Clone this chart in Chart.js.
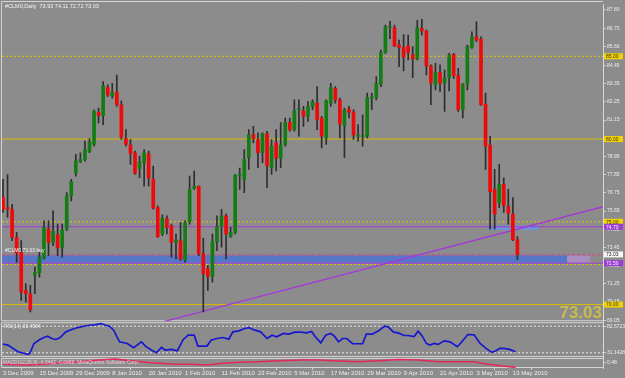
<!DOCTYPE html>
<html>
<head>
<meta charset="utf-8">
<script src="https://cdn.jsdelivr.net/npm/chart.js@4/dist/chart.umd.min.js"></script>
<style>
html, body { margin: 0; padding: 0; background: #8c8c8c; }
canvas { display: block; }
</style>
</head>
<body>
<canvas id="cl" width="625" height="378"></canvas>
<script>
// #CLM0 daily candles, 3 Dec 2009 .. 14 May 2010
var opens = [76.46, 75.86, 75.76, 74.06, 73.16, 70.85, 70.65, 71.75, 71.93, 72.82,
    74.56, 73.76, 74.22, 73.46, 74.56, 76.56, 77.96, 78.63, 78.77, 79.27,
    79.67, 81.61, 81.43, 83.13, 82.61, 82.85, 82.07, 80.03, 79.63, 79.17,
    78.23, 78.57, 79.11, 77.56, 75.86, 74.26, 75.20, 74.76, 73.76, 73.86,
    72.70, 75.00, 77.03, 77.15, 73.06, 72.16, 71.70, 73.80, 74.70, 75.36,
    74.10, 74.36, 77.80, 77.56, 78.87, 80.27, 79.97, 79.17, 80.31, 78.27,
    79.77, 78.83, 79.67, 81.01, 80.57, 81.77, 81.71, 81.37, 81.97, 82.17,
    81.27, 80.07, 82.17, 83.07, 82.37, 80.83, 81.81, 81.63, 80.17, 80.15,
    80.17, 82.49, 82.51, 83.31, 85.23, 86.74, 86.74, 85.70, 85.54, 85.64,
    85.11, 84.84, 86.68, 86.54, 84.42, 83.27, 84.01, 83.37, 83.71, 85.11,
    83.83, 81.77, 83.31, 85.54, 86.18, 86.02, 82.11, 79.63, 76.96, 76.16,
    77.26, 75.92, 75.46, 73.93];
var highs = [77.56, 77.86, 76.06, 74.36, 73.86, 71.26, 71.16, 72.26, 73.16, 75.06,
    75.06, 75.66, 74.86, 74.86, 76.76, 77.56, 79.07, 79.17, 79.87, 80.03,
    81.77, 81.87, 83.47, 83.27, 83.37, 83.87, 82.31, 80.57, 79.97, 79.27,
    78.97, 79.37, 79.27, 78.37, 75.96, 75.42, 75.36, 74.86, 74.26, 74.96,
    75.06, 77.76, 78.07, 77.17, 74.00, 72.36, 74.26, 75.36, 75.76, 75.46,
    74.66, 77.86, 78.25, 79.37, 80.57, 80.77, 80.37, 80.37, 80.47, 79.97,
    80.57, 81.00, 81.27, 81.27, 82.37, 82.37, 81.97, 82.27, 82.37, 83.17,
    81.37, 82.37, 83.37, 83.17, 82.47, 81.87, 81.97, 81.77, 80.87, 81.47,
    82.77, 82.77, 83.77, 85.37, 86.88, 87.12, 86.88, 85.98, 86.31, 86.28,
    85.58, 87.18, 87.24, 86.58, 84.48, 84.57, 84.48, 84.17, 85.18, 85.18,
    84.27, 83.37, 85.68, 86.48, 87.08, 86.18, 82.77, 80.17, 78.17, 78.47,
    77.66, 76.96, 76.46, 74.11];
var lows = [75.56, 75.26, 73.86, 72.56, 70.25, 70.15, 69.55, 70.65, 71.65, 72.76,
    72.96, 73.56, 72.96, 72.86, 74.46, 76.26, 77.76, 78.57, 78.67, 79.17,
    79.57, 80.97, 80.87, 82.57, 82.47, 81.97, 79.97, 79.57, 78.47, 77.86,
    77.66, 77.16, 77.16, 75.76, 74.06, 74.16, 74.26, 72.86, 72.76, 72.66,
    72.56, 74.86, 76.96, 72.96, 69.55, 70.85, 71.35, 73.26, 73.46, 72.76,
    74.06, 74.26, 76.96, 76.76, 78.17, 79.77, 78.27, 78.57, 77.06, 77.86,
    78.07, 78.27, 79.57, 80.47, 80.47, 80.17, 80.77, 81.07, 81.77, 80.57,
    79.47, 79.67, 81.97, 82.17, 80.07, 78.87, 81.27, 79.97, 79.87, 79.57,
    80.07, 81.77, 82.37, 83.17, 85.17, 86.07, 85.58, 84.37, 84.12, 84.78,
    83.71, 84.78, 86.28, 83.87, 82.07, 82.97, 82.87, 81.67, 82.91, 83.67,
    81.67, 81.27, 82.97, 85.48, 85.88, 82.03, 78.17, 74.56, 74.56, 75.86,
    75.56, 74.86, 73.86, 72.72];
var closes = [75.76, 75.76, 74.06, 73.10, 70.75, 70.65, 69.69, 71.95, 72.86, 74.66,
    73.76, 74.42, 73.42, 74.50, 76.56, 77.42, 78.67, 78.77, 79.37, 79.81,
    81.67, 81.43, 83.21, 82.67, 82.83, 82.07, 80.11, 79.67, 79.13, 77.93,
    78.63, 79.17, 77.63, 75.82, 74.10, 75.22, 74.66, 73.76, 73.90, 72.76,
    74.96, 76.96, 77.15, 73.06, 71.86, 71.70, 73.80, 74.70, 75.36, 74.26,
    74.36, 77.82, 77.84, 78.77, 80.27, 80.03, 79.17, 80.31, 78.37, 79.57,
    78.83, 79.63, 81.01, 80.57, 81.71, 81.79, 81.37, 81.97, 82.27, 81.17,
    80.17, 82.31, 83.11, 82.37, 80.91, 81.77, 81.63, 80.23, 80.19, 80.19,
    82.51, 82.53, 83.37, 85.23, 86.78, 86.76, 85.62, 85.54, 84.94, 85.23,
    84.84, 86.72, 86.54, 84.42, 83.37, 84.01, 83.37, 83.67, 85.08, 83.83,
    81.77, 83.31, 85.58, 86.18, 85.98, 82.07, 79.57, 76.82, 75.46, 77.26,
    75.99, 75.52, 73.90, 73.03];

var dateTicks = [0, 8, 16, 24, 32, 40, 48, 56, 64, 72, 80, 88, 96, 104, 112];
var dateLabels = ['3 Dec 2009', '15 Dec 2009', '29 Dec 2009', '8 Jan 2010', '20 Jan 2010',
    '1 Feb 2010', '11 Feb 2010', '23 Feb 2010', '5 Mar 2010', '17 Mar 2010',
    '29 Mar 2010', '9 Apr 2010', '21 Apr 2010', '3 May 2010', '13 May 2010'];
var priceTicks = [69.05, 70.15, 71.25, 72.35, 73.45, 74.55, 75.65, 76.75, 77.85, 78.95,
    80.05, 81.15, 82.25, 83.35, 84.45, 85.60, 86.70, 87.80];

// horizontal levels drawn on the chart
var yellowDotted = [85.00, 75.00, 72.42];
var yellowSolid = [80.00, 70.00];
var purpleLines = [74.70, 72.50];
var pinkDashed = [73.00];
var lastPrice = 73.03;
var trendPts = [[35.5, 68.99], [131.8, 75.91]];
var blueZone = [72.97, 72.52];
var blueZoneEnd = 123.9, zoneTagEnd = 128.9;
var smallZone = [74.78, 74.50], smallZoneFrom = 106.7, smallZoneTo = 117.7;

// RSI(14) panel, [bar, value]
var rsiPts = [[0, 47.9], [1.1, 46.0], [3.3, 33.1], [5.5, 28.0], [5.9, 29.9], [6.8, 49.2], [8.1, 56.9],
    [9.0, 60.7], [9.8, 63.3], [10.7, 58.8], [11.6, 56.9], [12.5, 60.1], [13.8, 71.7], [15.1, 76.2],
    [16.4, 80.0], [17.7, 82.6], [19.0, 84.5], [20.3, 85.8], [21.6, 87.7], [22.5, 84.5], [23.4, 82.6],
    [24.3, 74.9], [25.6, 52.4], [27.3, 49.2], [28.7, 40.8], [30.4, 52.4], [31.3, 44.1], [32.6, 36.4],
    [33.7, 31.2], [34.8, 41.5], [35.6, 36.4], [37.0, 37.6], [38.3, 35.1], [39.6, 56.9], [40.7, 65.2],
    [42.0, 65.2], [42.8, 44.1], [44.8, 44.1], [45.7, 55.6], [47.0, 58.8], [48.3, 60.7], [49.6, 57.5],
    [50.5, 71.7], [51.8, 73.6], [53.1, 78.1], [54.0, 80.0], [55.3, 74.9], [56.6, 71.7], [58.0, 58.8],
    [59.1, 65.2], [60.1, 62.0], [61.6, 68.5], [62.8, 67.2], [64.1, 71.0], [65.4, 71.0], [66.7, 69.7],
    [67.8, 72.3], [68.6, 62.0], [69.8, 50.5], [70.9, 65.2], [72.0, 68.5], [72.8, 63.3], [73.7, 52.4],
    [74.6, 58.8], [75.5, 58.8], [76.8, 48.6], [79.0, 48.6], [79.8, 67.2], [81.1, 67.2], [82.5, 73.6],
    [83.8, 82.6], [84.6, 81.3], [85.8, 71.0], [86.8, 69.7], [88.1, 64.6], [89.0, 64.6], [90.3, 62.7],
    [91.2, 72.9], [92.1, 63.3], [93.0, 49.2], [93.8, 46.0], [94.7, 49.2], [95.6, 47.3], [96.9, 54.3],
    [98.2, 52.4], [99.8, 42.8], [100.8, 52.4], [102.1, 66.5], [103.5, 65.9], [104.8, 49.2],
    [106.1, 39.6], [107.4, 31.9], [108.3, 35.1], [109.1, 39.6], [110.0, 39.6], [111.3, 37.6], [112.6, 33.1]];
var rsiLevels = [82.5723, 31.1428];

// MACD(12,26,9) signal line, [bar, value]
var macdPts = [[0, -0.1], [6, -0.3], [10, 0.1], [12.5, 0.4], [16.8, 0.7], [21.2, 1.2], [24.7, 1.5],
    [28.2, 1.0], [32.6, 0.4], [37, 0.0], [41.3, -0.1], [44.8, -0.3], [48.3, 0.2], [51.8, 0.5],
    [56.2, 0.7], [60.6, 1.0], [65.8, 1.2], [69.3, 1.2], [73.7, 0.9], [78.1, 0.7], [82.5, 1.0],
    [86.8, 1.4], [91.2, 1.2], [95.6, 0.7], [100, 0.7], [103.5, 0.7], [106.1, 0.0], [109.6, -0.6],
    [112.6, -1.0]];
var macdTicks = [0.48];

var xMin = -0.22, xMax = 131.8;
var small = { family: 'Liberation Sans', size: 5 };

function levelSet(levels, color, dash, axis) {
    return levels.map(function (v) {
        return {
            type: 'line', yAxisID: axis || 'y', order: 3,
            data: [{ x: xMin, y: v }, { x: xMax, y: v }],
            borderColor: color, borderWidth: 1, borderDash: dash, pointRadius: 0
        };
    });
}
function fixTicks(vals) {
    return function (scale) { scale.ticks = vals.map(function (v) { return { value: v }; }); };
}
function fitWidth(scale) { scale.width = 22; }

var bodies = opens.map(function (o, i) { return { x: i, y: [o, closes[i]] }; });
var wicks = lows.map(function (l, i) { return { x: i, y: [l, highs[i]] }; });
var bodyColors = opens.map(function (o, i) { return closes[i] >= o ? '#137d13' : '#ee0a0a'; });

var datasets = [
    { type: 'bar', data: bodies, backgroundColor: bodyColors, barThickness: 3, minBarLength: 1, grouped: false, order: 1 },
    { type: 'bar', data: wicks, backgroundColor: '#2e2e2e', barThickness: 1, grouped: false, order: 2 },
    {
        type: 'line', order: 3, data: trendPts.map(function (p) { return { x: p[0], y: p[1] }; }),
        borderColor: '#a33ad8', borderWidth: 1.3, pointRadius: 0
    },
    {
        type: 'line', yAxisID: 'yRsi', order: 0, data: rsiPts.map(function (p) { return { x: p[0], y: p[1] }; }),
        borderColor: '#1717cf', borderWidth: 1.7, pointRadius: 0
    },
    {
        type: 'line', yAxisID: 'yMacd', order: 0, data: macdPts.map(function (p) { return { x: p[0], y: p[1] }; }),
        borderColor: '#e6265a', borderWidth: 1.5, pointRadius: 0
    }
].concat(levelSet(yellowDotted, '#e2c400', [2, 2]))
 .concat(levelSet(yellowSolid, '#d8bc00', []))
 .concat(levelSet(purpleLines, '#a33ad8', []))
 .concat(levelSet(pinkDashed, '#e0407e', [3, 2]))
 .concat(levelSet(rsiLevels, '#e4e4e4', [2, 2], 'yRsi'));

function tag(ctx, scale, v, bg, fg) {
    var py = scale.getPixelForValue(v);
    ctx.fillStyle = bg;
    ctx.fillRect(scale.left + 1, py - 3, 19, 6);
    ctx.fillStyle = fg;
    ctx.fillText(v.toFixed(2), scale.left + 3, py + 0.5);
}

var decor = {
    id: 'decor',
    beforeDatasetsDraw: function (chart) {
        var ctx = chart.ctx, x = chart.scales.x, y = chart.scales.y;
        var r = chart.scales.yRsi, m = chart.scales.yMacd;
        ctx.save();
        var zt = y.getPixelForValue(blueZone[0]), zb = y.getPixelForValue(blueZone[1]);
        var ze = x.getPixelForValue(blueZoneEnd);
        ctx.fillStyle = '#5676c8';
        ctx.fillRect(x.left, zt, ze - x.left, zb - zt);
        ctx.fillStyle = '#a68fbf';
        ctx.fillRect(ze, zt, x.getPixelForValue(zoneTagEnd) - ze, zb - zt);
        var st = y.getPixelForValue(smallZone[0]), sb = y.getPixelForValue(smallZone[1]);
        var sx = x.getPixelForValue(smallZoneFrom);
        ctx.fillStyle = '#6c95d2';
        ctx.fillRect(sx, st, x.getPixelForValue(smallZoneTo) - sx, sb - st);

        // pane frames
        ctx.strokeStyle = '#d4d4d4';
        ctx.lineWidth = 1;
        ctx.beginPath();
        ctx.moveTo(x.right, 1.5); ctx.lineTo(1.5, 1.5); ctx.lineTo(1.5, y.bottom - 0.5); ctx.lineTo(x.right, y.bottom - 0.5);
        ctx.moveTo(x.right, r.top + 1.5); ctx.lineTo(1.5, r.top + 1.5); ctx.lineTo(1.5, r.bottom - 1.5); ctx.lineTo(x.right, r.bottom - 1.5);
        ctx.moveTo(x.right, m.top + 0.5); ctx.lineTo(1.5, m.top + 0.5); ctx.lineTo(1.5, m.bottom - 0.5); ctx.lineTo(x.right, m.bottom - 0.5);
        ctx.stroke();
        ctx.restore();
    },
    afterDraw: function (chart) {
        var ctx = chart.ctx, x = chart.scales.x, y = chart.scales.y;
        var r = chart.scales.yRsi, m = chart.scales.yMacd;
        ctx.save();
        ctx.textBaseline = 'middle';
        ctx.font = '5.5px "Liberation Sans"';
        ctx.fillStyle = '#f4f4f4';
        ctx.fillText('#CLM0,Daily  73.93 74.11 72.72 73.03', 5, 6);
        ctx.font = '5px "Liberation Sans"';
        ctx.fillText('#CLM0 73.03 buy', 5, y.getPixelForValue(blueZone[0]) - 5);
        ctx.fillText('RSI(14) 39.4984', 4, r.top + 5.5);
        ctx.fillStyle = '#f2c8d6';
        ctx.fillText('MACD(12,26,9) -0.5492 -0.6488  MetaQuotes Software Corp.', 3, m.top + 5);

        yellowSolid.concat([85.00, 75.00]).forEach(function (v) { tag(ctx, y, v, '#f2d200', '#333'); });
        purpleLines.forEach(function (v) { tag(ctx, y, v, '#9c3ad6', '#f4f4f4'); });
        tag(ctx, y, lastPrice, '#f6f6f6', '#222');

        ctx.font = 'bold 17px "Liberation Sans"';
        ctx.textAlign = 'right';
        ctx.textBaseline = 'alphabetic';
        ctx.fillStyle = '#c8bb4c';
        ctx.fillText(lastPrice.toFixed(2), x.right - 1, y.bottom - 3);
        ctx.restore();
    }
};

var axisGrid = { drawOnChartArea: false, tickLength: 3, color: '#d0d0d0' };
var axisBorder = { display: true, color: '#d8d8d8' };

new Chart(document.getElementById('cl'), {
    type: 'bar',
    data: { datasets: datasets },
    options: {
        responsive: false,
        animation: false,
        devicePixelRatio: 1,
        layout: { padding: { left: 2, top: 2, right: 0, bottom: 0 } },
        plugins: { legend: { display: false }, tooltip: { enabled: false } },
        scales: {
            x: {
                type: 'linear', position: 'bottom', offset: false, min: xMin, max: xMax,
                afterBuildTicks: fixTicks(dateTicks),
                afterFit: function (s) { s.height = 10; },
                ticks: {
                    font: { family: 'Liberation Sans', size: 6 }, color: '#eeeeee', padding: 0,
                    align: 'start', maxRotation: 0, autoSkip: false,
                    callback: function (v, i) { return dateLabels[i]; }
                },
                grid: { drawOnChartArea: false, tickLength: 2, color: '#d0d0d0' },
                border: { display: false }
            },
            y: {
                type: 'linear', position: 'right', stack: 'panes', stackWeight: 319, weight: 1,
                min: 68.99, max: 88.16, beginAtZero: false,
                afterBuildTicks: fixTicks(priceTicks), afterFit: fitWidth,
                ticks: { font: small, color: '#eeeeee', padding: 1, callback: function (v) { return v.toFixed(2); } },
                grid: axisGrid, border: axisBorder
            },
            yRsi: {
                type: 'linear', position: 'right', stack: 'panes', stackWeight: 37, weight: 2,
                min: 20.9, max: 92.2,
                afterBuildTicks: fixTicks(rsiLevels), afterFit: fitWidth,
                ticks: { font: small, color: '#eeeeee', padding: 1, callback: function (v) { return v.toFixed(4); } },
                grid: axisGrid, border: axisBorder
            },
            yMacd: {
                type: 'linear', position: 'right', stack: 'panes', stackWeight: 10, weight: 3,
                min: -1.2, max: 1.8,
                afterBuildTicks: fixTicks(macdTicks), afterFit: fitWidth,
                ticks: { font: small, color: '#eeeeee', padding: 1, callback: function (v) { return v.toFixed(2); } },
                grid: axisGrid, border: axisBorder
            }
        }
    },
    plugins: [decor]
});
</script>
</body>
</html>
